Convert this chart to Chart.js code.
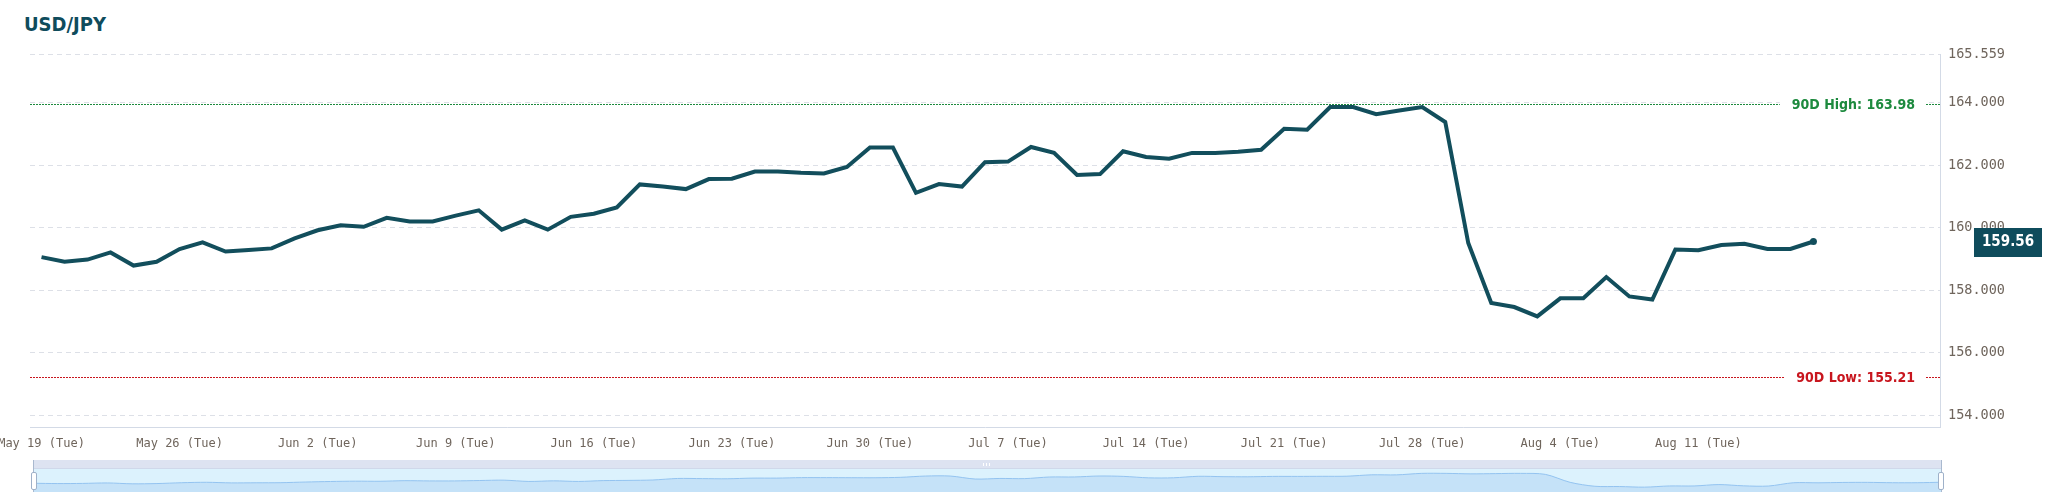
<!DOCTYPE html>
<html>
<head>
<meta charset="utf-8">
<title>USD/JPY</title>
<script src="https://cdn.jsdelivr.net/npm/chart.js@4.4.1/dist/chart.umd.min.js"></script>
<style>
  html, body { margin: 0; padding: 0; background: #fff; }
  body { width: 2048px; height: 497px; position: relative; overflow: hidden; }
  .title {
    position: absolute; left: 24px; top: 12px;
    font-family: "Liberation Sans Narrow", "DejaVu Sans Condensed", Roboto, sans-serif;
    font-weight: bold; font-size: 20px; color: #0f4c5c; letter-spacing: 0;
  }
  #mainChart { position: absolute; left: 0; top: 0; }
  .zoom-bar { position: absolute; left: 33px; top: 460px; width: 1909px; height: 8px; background: #dde3f1; }
  .zoom-grip { position: absolute; left: 50%; top: 3px; width: 9px; height: 3px; margin-left: -5px;
    background: repeating-linear-gradient(90deg, #fff 0 1px, transparent 1px 3px); }
  .zoom-body { position: absolute; left: 33px; top: 468px; width: 1909px; height: 24px; background: #dcf2fd;
    border-top: 1px solid #cfd8ea; box-sizing: border-box; }
  #sliderChart { position: absolute; left: 33px; top: 469px; }
  .zoom-edge { position: absolute; top: 460px; width: 1px; height: 32px; background: #a9b9cf; }
  .zoom-handle { position: absolute; top: 472px; width: 4px; height: 16px; background: #fff;
    border: 1px solid #9fb1c9; border-radius: 2px; }
</style>
</head>
<body>
<div class="title">USD/JPY</div>
<canvas id="mainChart" width="2048" height="497"></canvas>
<div class="zoom-bar"><div class="zoom-grip"></div></div>
<div class="zoom-body"></div>
<canvas id="sliderChart" width="1909" height="23"></canvas>
<div class="zoom-edge" style="left:33px"></div>
<div class="zoom-edge" style="left:1941px"></div>
<div class="zoom-handle" style="left:31px"></div>
<div class="zoom-handle" style="left:1938px"></div>

<script>
// ---------- Data ----------
// Weekly tick labels, one every 6 trading sessions
const tickLabels = [
  "May 19 (Tue)", "May 26 (Tue)", "Jun 2 (Tue)", "Jun 9 (Tue)", "Jun 16 (Tue)",
  "Jun 23 (Tue)", "Jun 30 (Tue)", "Jul 7 (Tue)", "Jul 14 (Tue)", "Jul 21 (Tue)",
  "Jul 28 (Tue)", "Aug 4 (Tue)", "Aug 11 (Tue)"
];
const sessionsPerTick = 6;
const trailingSlots = 5;   // empty sessions to the right of the last close

const closes = [
  159.06, 158.91, 158.98, 159.21, 158.79, 158.91,
  159.32, 159.53, 159.24, 159.29, 159.34, 159.66,
  159.92, 160.08, 160.03, 160.32, 160.20, 160.20,
  160.39, 160.56, 159.94, 160.24, 159.94, 160.35,
  160.45, 160.65, 161.39, 161.32, 161.24, 161.56,
  161.57, 161.80, 161.80, 161.76, 161.74, 161.95,
  162.57, 162.57, 161.12, 161.40, 161.32, 162.10,
  162.12, 162.59, 162.40, 161.69, 161.72, 162.45,
  162.27, 162.21, 162.40, 162.40, 162.44, 162.50,
  163.17, 163.14, 163.87, 163.87, 163.64, 163.76,
  163.87, 163.39, 159.51, 157.59, 157.46, 157.16,
  157.74, 157.74, 158.42, 157.80, 157.70, 159.30,
  159.28, 159.45, 159.49, 159.32, 159.32, 159.56
];

const high90 = 163.98;
const low90 = 155.21;
const yTicks = [154, 156, 158, 160, 162, 164, 165.559];
const yMin = 153.6;
const yMax = 165.559;

(function () {
    "use strict";

    var LINE = "#124e5c";
    var TICK_TEXT = "#6f655c";
    var AXIS_LINE = "#d3dae6";
    var MONO = "'DejaVu Sans Mono', 'Liberation Mono', monospace";
    var NARROW = "'Liberation Sans Narrow', 'DejaVu Sans Condensed', Roboto, sans-serif";

    // category slots: every session plus the empty ones on the right
    var slotCount = closes.length + trailingSlots;
    var labels = [];
    for (var i = 0; i < slotCount; i++) {
        var k = i / sessionsPerTick;
        labels.push(i % sessionsPerTick === 0 && tickLabels[k] ? tickLabels[k] : "");
    }

    // ---------- 90D high / low reference lines + last value tag ----------
    var refLines = {
        id: "refLines",
        beforeDatasetsDraw: function (chart) {
            var ctx = chart.ctx, area = chart.chartArea, y = chart.scales.y;
            [[high90, "90D High: " + high90.toFixed(2), "#1d8a3e"],
             [low90, "90D Low: " + low90.toFixed(2), "#c8161e"]].forEach(function (r) {
                var py = Math.round(y.getPixelForValue(r[0])) + 0.5;
                ctx.save();
                ctx.strokeStyle = r[2];
                ctx.lineWidth = 1;
                ctx.setLineDash([2, 1]);
                ctx.beginPath();
                ctx.moveTo(area.left, py);
                ctx.lineTo(area.right, py);
                ctx.stroke();
                ctx.setLineDash([]);
                ctx.font = "bold 14px " + NARROW;
                ctx.textAlign = "right";
                ctx.textBaseline = "middle";
                var w = ctx.measureText(r[1]).width;
                var tx = area.right - 25;
                ctx.fillStyle = "#fff";
                ctx.fillRect(tx - w - 12, py - 8, w + 23, 16);
                ctx.fillStyle = r[2];
                ctx.fillText(r[1], tx, py + 1);
                ctx.restore();
            });
        },
        afterDraw: function (chart) {
            var ctx = chart.ctx, y = chart.scales.y;
            var last = closes[closes.length - 1];
            var py = y.getPixelForValue(last);
            ctx.save();
            ctx.fillStyle = "#0f4c5c";
            ctx.fillRect(1974, Math.round(py - 14), 68, 29);
            ctx.fillStyle = "#fff";
            ctx.font = "bold 15px " + NARROW;
            ctx.textAlign = "center";
            ctx.textBaseline = "middle";
            ctx.fillText(last.toFixed(2), 2008, py + 1);
            ctx.restore();
        }
    };

    new Chart(document.getElementById("mainChart"), {
        type: "line",
        data: {
            labels: labels,
            datasets: [{
                data: closes,
                borderColor: LINE,
                backgroundColor: LINE,
                borderWidth: 4,
                tension: 0,
                fill: false,
                pointRadius: function (c) { return c.dataIndex === closes.length - 1 ? 3.5 : 0; },
                pointBorderWidth: 0,
                pointHoverRadius: 0
            }]
        },
        options: {
            responsive: false,
            animation: false,
            events: [],
            layout: { padding: { left: 30, top: 54.3, right: 0, bottom: 0 } },
            plugins: { legend: { display: false }, tooltip: { enabled: false }, title: { display: false } },
            scales: {
                x: {
                    type: "category",
                    offset: true,
                    grid: { display: false, drawTicks: false },
                    border: { display: true, color: AXIS_LINE, width: 1 },
                    ticks: {
                        autoSkip: false, maxRotation: 0, padding: 9,
                        color: TICK_TEXT, font: { family: MONO, size: 12 }
                    },
                    afterFit: function (s) {
                        s.height = 69.5;
                        s.paddingLeft = 0; s.paddingRight = 0;
                    }
                },
                y: {
                    position: "right",
                    min: yMin,
                    max: yMax,
                    grid: { color: "#dde0e7", lineWidth: 1, drawTicks: false },
                    border: { display: true, color: AXIS_LINE, width: 1, dash: [5, 4] },
                    ticks: {
                        padding: 8, color: TICK_TEXT, font: { family: MONO, size: 13.5 },
                        callback: function (v) { return Number(v).toFixed(3); }
                    },
                    afterBuildTicks: function (s) {
                        s.ticks = yTicks.map(function (v) { return { value: v }; });
                    },
                    afterFit: function (s) {
                        s.width = 108;
                        s.paddingTop = 0; s.paddingBottom = 0;
                    }
                }
            }
        },
        plugins: [refLines]
    });

    // ---------- Data-zoom strip ----------
    new Chart(document.getElementById("sliderChart"), {
        type: "line",
        data: {
            labels: closes.map(function (_, j) { return j; }),
            datasets: [{
                data: closes,
                borderColor: "#93c3f0",
                backgroundColor: "#c5e2f8",
                borderWidth: 1,
                pointRadius: 0,
                tension: 0.3,
                fill: "start"
            }]
        },
        options: {
            responsive: false,
            animation: false,
            events: [],
            layout: { padding: 0 },
            plugins: { legend: { display: false }, tooltip: { enabled: false } },
            scales: {
                x: { display: false, offset: false },
                y: { display: false, min: 154.8, max: 166 }
            }
        }
    });
})();
</script>
</body>
</html>
